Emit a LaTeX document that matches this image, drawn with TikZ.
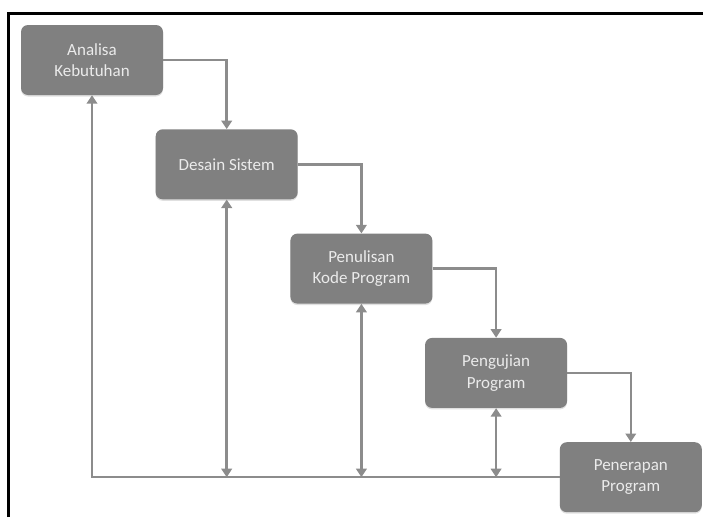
\documentclass[tikz,border=0pt]{standalone}
\usepackage{fontspec}
\newfontfamily\boxfont{Carlito}
\usetikzlibrary{arrows.meta,shadows}

\begin{document}
\begin{tikzpicture}[x=1pt,y=-1pt]
	\tikzset{%
		phase/.style={rectangle,rounded corners=7pt,fill=black!50,text=white!92!black,
			minimum width=142pt,minimum height=70pt,align=center,
			font=\boxfont\fontsize{17}{21.5}\selectfont,
			drop shadow={shadow xshift=0pt,shadow yshift=-1.5pt,fill=black!12,opacity=1}},
		flow/.style={draw=black!45,line width=2.5pt,>={Triangle[width=10.5pt,length=8.5pt]}},
	}

	\def\stepx{134.7}
	\def\stepy{104.3}

	\useasboundingbox (0,0) rectangle (703,517);
	\draw [line width=3pt] (8.5,517) -- (8.5,13.5) -- (703,13.5);

	\node [phase] (analisa) at (92,60) {Analisa\\Kebutuhan};
	\node [phase] (desain) at (92+\stepx,60+\stepy) {Desain Sistem};
	\node [phase] (penulisan) at (92+2*\stepx,60+2*\stepy) {Penulisan\\Kode Program};
	\node [phase] (pengujian) at (92+3*\stepx,60+3*\stepy) {Pengujian\\Program};
	\node [phase] (penerapan) at (92+4*\stepx,60+4*\stepy) {Penerapan\\Program};

	\draw [flow,->] (analisa.east) -| (desain.north);
	\draw [flow,->] (desain.east) -| (penulisan.north);
	\draw [flow,->] (penulisan.east) -| (pengujian.north);
	\draw [flow,->] (pengujian.east) -| (penerapan.north);

	\draw [flow,->] (penerapan.west) -| (analisa.south);
	\draw [flow,<->] (desain.south) -- (desain.south |- penerapan.west);
	\draw [flow,<->] (penulisan.south) -- (penulisan.south |- penerapan.west);
	\draw [flow,<->] (pengujian.south) -- (pengujian.south |- penerapan.west);
\end{tikzpicture}
\end{document}
